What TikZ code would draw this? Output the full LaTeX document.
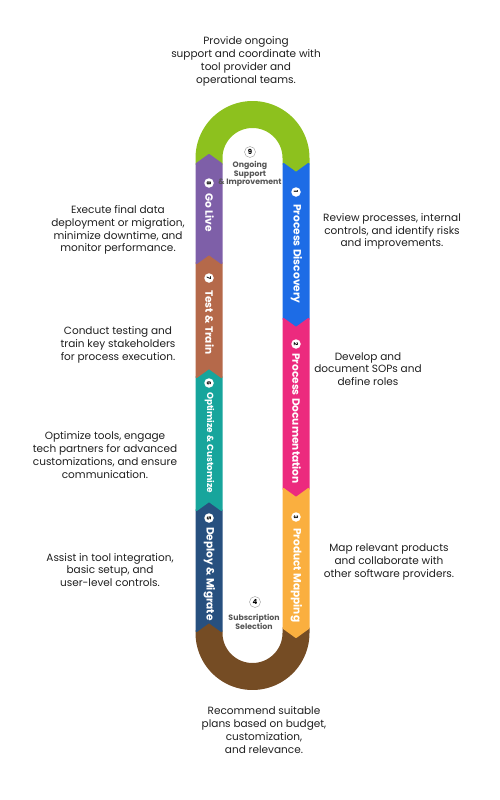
\documentclass[tikz,border=0pt]{standalone}
\usepackage{fontspec}
\setmainfont{Poppins}
\definecolor{cgreen}{HTML}{8DC11E}
\definecolor{cblue}{HTML}{1D6CE6}
\definecolor{cpink}{HTML}{EC2A7E}
\definecolor{cyellow}{HTML}{FAAF3F}
\definecolor{cbrown}{HTML}{754C24}
\definecolor{cnavy}{HTML}{27507F}
\definecolor{cteal}{HTML}{17A59C}
\definecolor{ctest}{HTML}{B5694A}
\definecolor{cpurple}{HTML}{7E5FA8}
\definecolor{cgraytxt}{HTML}{555555}
\begin{document}
\begin{tikzpicture}[x=1pt,y=-1pt,
  seg/.style={draw=white, line width=2pt, line join=round},
  lbl/.style={rotate=-90, anchor=west, text=white, font=\bfseries\fontsize{10.6}{10.6}\selectfont, inner sep=0pt},
  num/.style={circle, fill=white, inner sep=0pt, minimum size=9.5pt, font=\bfseries\fontsize{5.8}{5.8}\selectfont, rotate=-90},
  onum/.style={circle, fill=white, draw=black!40, line width=0.4pt, inner sep=0pt, minimum size=11pt, font=\bfseries\fontsize{7}{7}\selectfont},
  intxt/.style={align=center, text=cgraytxt, font=\bfseries\fontsize{7.8}{8.8}\selectfont, inner sep=0pt},
  desc/.style={align=center, text=black!88, font=\fontsize{10.5}{12.8}\selectfont, inner sep=0pt}]
\useasboundingbox (0,0) rectangle (500,800);
% top arch
\fill[seg, cgreen] (196.5,164) -- (196.5,158)
  -- plot[domain=180:360, samples=60] ({252.5+56*cos(\x)},{158+56*sin(\x)})
  -- (308.5,164) -- (296,173) -- (283.5,164) -- (283.5,158)
  -- plot[domain=360:180, samples=60] ({252.5+31*cos(\x)},{158+31*sin(\x)})
  -- (221.5,164) -- (209,155) -- cycle;
% bottom arch
\fill[seg, cbrown] (283.5,628) -- (296,637) -- (308.5,628) -- (308.5,633)
  -- plot[domain=0:180, samples=60] ({252.5+56*cos(\x)},{633+56*sin(\x)})
  -- (196.5,631) -- (209,622) -- (221.5,631) -- (221.5,633)
  -- plot[domain=180:0, samples=60] ({252.5+31*cos(\x)},{633+31*sin(\x)})
  -- cycle;
% right column
\fill[seg, cblue] (283.5,164) -- (296,173) -- (308.5,164) -- (308.5,319) -- (296,328) -- (283.5,319) -- cycle;
\fill[seg, cpink] (283.5,319) -- (296,328) -- (308.5,319) -- (308.5,489) -- (296,498) -- (283.5,489) -- cycle;
\fill[seg, cyellow] (283.5,489) -- (296,498) -- (308.5,489) -- (308.5,628) -- (296,637) -- (283.5,628) -- cycle;
% left column
\fill[seg, cnavy] (196.5,631) -- (209,622) -- (221.5,631) -- (221.5,510) -- (209,501) -- (196.5,510) -- cycle;
\fill[seg, cteal] (196.5,510) -- (209,501) -- (221.5,510) -- (221.5,377) -- (209,368) -- (196.5,377) -- cycle;
\fill[seg, ctest] (196.5,377) -- (209,368) -- (221.5,377) -- (221.5,263) -- (209,254) -- (196.5,263) -- cycle;
\fill[seg, cpurple] (196.5,263) -- (209,254) -- (221.5,263) -- (221.5,164) -- (209,155) -- (196.5,164) -- cycle;
% numbers and labels
\node[num] (n1) at (296,192) {1};
\node[lbl] (l1) at (296.5,204) {Process Discovery};
\node[num] (n2) at (296,344) {2};
\node[lbl] (l2) at (296.5,353) {Process Documentation};
\node[num] (n3) at (296,517) {3};
\node[lbl] (l3) at (296.5,528) {Product Mapping};
\node[num] (n5) at (209,518) {5};
\node[lbl] (l5) at (209.5,527) {Deploy \& Migrate};
\node[num] (n6) at (209,383) {6};
\node[lbl, font=\bfseries\fontsize{8.9}{8.9}\selectfont] (l6) at (209.5,392) {Optimize \& Customize};
\node[num] (n7) at (209,278) {7};
\node[lbl] (l7) at (209.5,290) {Test \& Train};
\node[num] (n8) at (209,183) {8};
\node[lbl] (l8) at (209.5,193) {Go Live};
% inner texts
\node[onum] (n9) at (250,152) {9};
\node[intxt] (t9) at (250,174) {Ongoing\\Support\\\& Improvement};
\node[onum] (n4) at (255,602) {4};
\node[intxt] (t4) at (254,621.5) {Subscription\\Selection};
% descriptions
\node[desc] (d9) at (246,61.5) {Provide ongoing\\support and coordinate with\\tool provider and\\operational teams.};
\node[desc] (d1) at (392,231.5) {Review processes, internal\\controls, and identify risks\\and improvements.};
\node[desc] (d8) at (118,230) {Execute final data\\deployment or migration,\\minimize downtime, and\\monitor performance.};
\node[desc] (d7) at (118,345) {Conduct testing and\\train key stakeholders\\for process execution.};
\node[desc] (d2) at (368,369) {Develop and\\document SOPs and\\define roles};
\node[desc] (d6) at (105,455) {Optimize tools, engage\\tech partners for advanced\\customizations, and ensure\\communication.};
\node[desc] (d3) at (389,562) {Map relevant products\\and collaborate with\\other software providers.};
\node[desc] (d5) at (110,570) {Assist in tool integration,\\basic setup, and\\user-level controls.};
\node[desc] (d4) at (264,730) {Recommend suitable\\plans based on budget,\\customization,\\and relevance.};
\end{tikzpicture}
\end{document}
